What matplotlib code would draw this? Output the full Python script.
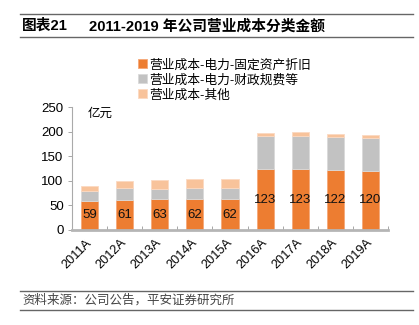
import numpy as np
import matplotlib.pyplot as plt
from matplotlib.lines import Line2D

plt.rcParams['font.family'] = ['Liberation Sans', 'Noto Sans CJK SC']

# 数据（亿元）
years = ['2011A', '2012A', '2013A', '2014A', '2015A', '2016A', '2017A', '2018A', '2019A']
depreciation = [59, 61, 63, 62, 62, 123, 123, 122, 120]
fiscal_fees = [21, 25, 21, 24, 24, 68, 69, 67, 66]
other_cost = [10, 13, 17, 18, 17, 7, 8, 7, 8]

labels = ['营业成本-电力-固定资产折旧', '营业成本-电力-财政规费等', '营业成本-其他']
colors = ['#ED7D31', '#C2C2C2', '#F8C39B']

W, H = 419, 325
fig = plt.figure(figsize=(W / 100, H / 100), dpi=100)

# 坐标区按像素位置放置
left, right, top, bottom = 72, 388, 107, 230
ax = fig.add_axes([left / W, (H - bottom) / H, (right - left) / W, (bottom - top) / H])

x = np.arange(len(years))
dep = np.array(depreciation)
fee = np.array(fiscal_fees)
oth = np.array(other_cost)
w = 0.49
b1 = ax.bar(x, dep, w, color=colors[0], edgecolor='#F5A878', linewidth=0.6, label=labels[0])
b2 = ax.bar(x, fee, w, bottom=dep, color=colors[1], edgecolor='#DADADA', linewidth=0.6, label=labels[1])
b3 = ax.bar(x, oth, w, bottom=dep + fee, color=colors[2], edgecolor='#FBD9C2', linewidth=0.6, label=labels[2])

for xi, v in zip(x, dep):
    ax.text(xi, v / 2, f'{v}', ha='center', va='center', fontsize=9.5, color='#111111')

ax.set_xlim(-0.5, len(years) - 0.5)
ax.set_ylim(0, 250)
ax.set_yticks([0, 50, 100, 150, 200, 250])
ax.tick_params(axis='y', labelsize=9.5, length=3, width=0.6, color='#999999', pad=3)
ax.set_xticks(x)
ax.set_xticklabels(years, rotation=45, ha='right', va='center', rotation_mode='anchor', fontsize=9.2)
ax.tick_params(axis='x', length=0, pad=8)
# 类别分隔刻度
ax.set_xticks(np.arange(-0.5, len(years)), minor=True)
ax.tick_params(axis='x', which='minor', direction='in', length=3, width=0.6, color='#999999')

for s in ['top', 'right']:
    ax.spines[s].set_visible(False)
ax.spines['left'].set_color('#AAAAAA')
ax.spines['left'].set_linewidth(0.8)
ax.spines['bottom'].set_color('#B5B5B5')
ax.spines['bottom'].set_linewidth(2)

ax.text(0.05, 0.99, '亿元', transform=ax.transAxes, fontsize=9, va='top', ha='left')

fig.legend(handles=[b1, b2, b3], labels=labels, loc='upper left',
           bbox_to_anchor=(138 / W, 1 - 59 / H), frameon=False, fontsize=9.2,
           handlelength=0.7, handleheight=0.7, handletextpad=0.15,
           labelspacing=0.22, borderpad=0, borderaxespad=0)

# 标题与来源
fig.add_artist(Line2D([20 / W, 413 / W], [1 - 14 / H] * 2, color='#666666', lw=1))
fig.add_artist(Line2D([20 / W, 413 / W], [1 - 37 / H] * 2, color='#666666', lw=1))
fig.text(22 / W, 1 - 26 / H, '图表21', fontsize=10.6, fontweight='bold', va='center', ha='left')
fig.text(89 / W, 1 - 26 / H, '2011-2019 年公司营业成本分类金额',
         fontsize=10.6, fontweight='bold', va='center', ha='left')

fig.add_artist(Line2D([20 / W, 413 / W], [1 - 291 / H] * 2, color='#666666', lw=1))
fig.add_artist(Line2D([20 / W, 413 / W], [1 - 310 / H] * 2, color='#666666', lw=1))
fig.text(22 / W, 1 - 300.5 / H, '资料来源：公司公告，平安证券研究所',
         fontsize=9, style='italic', color='#444444', va='center', ha='left')

fig.savefig('out.png', dpi=100)
